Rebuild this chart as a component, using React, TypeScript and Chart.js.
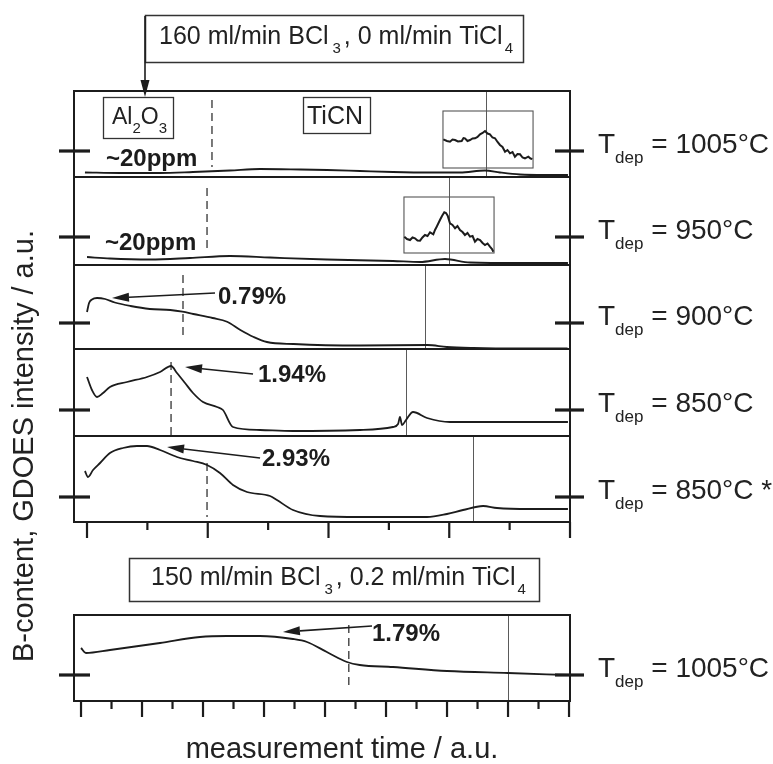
import React, { useEffect, useRef } from 'react';
import { Chart, registerables } from 'chart.js';

Chart.register(...registerables);

const W = 773;
const H = 764;
const FONT = '"Liberation Sans", Arial, Helvetica, sans-serif';
const INK = '#1c1c1c';

// ---------- data: upper group (x in a.u., y in a.u. relative to panel baseline mark) ----------
const p1X = [-0.17, 2.73, 6.05, 8.78, 11.84, 14.33, 17.64, 19.88, 22.61, 25.34, 28.41, 30.89, 32.96, 34.2, 35.86, 37.93, 39.83];
const p1Y = [-21.5, -22, -22, -21, -19.5, -18, -18.5, -19, -20, -21, -21.5, -21.5, -19.5, -21.5, -23.5, -24, -24];

const p2X = [0, 1.9, 5.22, 8.53, 11.84, 15.16, 19.88, 25.34, 27.58, 29.65, 31.72, 35.86, 39.83];
const p2Y = [-20, -21.5, -22.5, -21, -19, -20.5, -22.5, -24, -25, -22, -25.5, -26, -26];

const p3X = [0, 0.17, 0.41, 0.83, 1.5, 2.3, 3.6, 5.2, 6.9, 7.9, 8.8, 10.4, 11.6, 12.7, 13.8, 14.9, 17.1, 22.6, 28.2, 29.8, 32.0, 35.9, 39.8];
const p3Y = [11, 20, 23.5, 25, 24, 20.5, 17, 14, 13, 11.3, 9, 5, 1.3, -7, -14, -19, -21, -22.5, -22, -24, -25, -25.5, -25.5];

const p4X = [0, 0.41, 0.83, 1.33, 1.9, 3.31, 4.97, 6.05, 6.96, 7.45, 8.12, 8.78, 9.61, 10.77, 11.26, 12.09, 14.33, 17.06, 22.61, 25.34, 25.76, 25.92, 26.09, 26.42, 27.0, 28.16, 30.06, 39.83];
const p4Y = [33, 20, 13, 17, 23, 28, 33, 38, 44, 37, 27, 17, 8, 3, 0, -17, -20, -21, -20, -17, -14, -7, -15, -10, -2, -8, -12, -12];

const p5X = [-0.17, 0.08, 0.5, 1.08, 1.9, 2.98, 4.14, 4.97, 6.05, 7.45, 8.78, 9.94, 11.01, 12.09, 13.25, 15.16, 15.73, 17.06, 19.3, 22.61, 28.16, 29.81, 31.14, 32.8, 33.95, 36.69, 39.83];
const p5Y = [26, 20, 27, 34, 44, 49, 51, 51, 47, 40, 36, 32, 24, 12, 5, 1, -3, -13, -19, -20, -20, -17, -13, -9, -11, -12, -12];

// insets (zoomed views drawn inside panels 1 and 2)
const in1X = [29.51, 29.81, 30.06, 30.27, 30.48, 30.72, 31.03, 31.18, 31.3, 31.51, 31.72, 31.93, 32.14, 32.34, 32.55, 32.76, 32.96, 33.17, 33.37, 33.58, 33.79, 34.0, 34.2, 34.41, 34.62, 34.82, 35.03, 35.24, 35.44, 35.65, 35.86, 36.07, 36.27, 36.55, 36.73, 36.88];
const in1Y = [11.7, 10, 9.3, 11.5, 11, 9.5, 10, 13, 12.7, 10, 11, 12.5, 12.7, 14, 16.7, 18, 20, 17.5, 16.7, 13.5, 12.7, 9, 6, 4, -0.7, 1, -2.3, -1, -5.7, -3, -3.3, -6.5, -7.3, -5.7, -7.5, -8];

const in2X = [26.28, 26.5, 26.75, 26.96, 27.16, 27.37, 27.58, 27.78, 27.99, 28.2, 28.41, 28.68, 28.82, 28.96, 29.23, 29.4, 29.59, 29.73, 29.87, 30.06, 30.27, 30.48, 30.68, 30.89, 31.1, 31.3, 31.51, 31.72, 31.93, 32.13, 32.34, 32.55, 32.76, 32.96, 33.17, 33.37, 33.54, 33.65];
const in2Y = [0.3, -2, -3, -0.5, -1.3, -3.5, -3.7, -0.5, 2, 1, 4.7, 2.7, 7, 10.3, 17, 21, 24.7, 24, 21.3, 13.7, 12, 8.7, 11, 7, 5, 2, 4, 0.3, 1, -4.7, -2, -3, -6, -8, -6.5, -9.7, -12, -14.7];

// ---------- data: lower panel ----------
const p6X = [0, 0.8, 4.75, 12.95, 19.5, 23.9, 29.3, 34.75, 37.05, 40.3, 43.6, 45.7, 51.15, 60, 70, 79.8];
const p6Y = [27, 22, 25, 32, 38, 39, 39, 36, 33, 23, 13, 10, 8, 4, 2, 0];

// ---------- markers & labels ----------
const topTicks = [0, 5, 10, 15, 20, 25, 30, 35, 40];
const bottomTicks = [0, 5, 10, 15, 20, 25, 30, 35, 40, 45, 50, 55, 60, 65, 70, 75, 80];
const solidTop = [33.04, 29.98, 27.99, 26.42, 31.97];
const dashTop = [10.35, 9.94, 7.95, 6.96, 9.94];
const dashTopFrom = [51, 49, 48, 48, 34];
const dashTopTo = [-16, -16, -17, -25, -20];
const solidBottom = 70;
const dashBottom = 43.9;
const tdepLabels = ['1005°C', '950°C', '900°C', '850°C', '850°C *', '1005°C'];
const boronLabels = ['0.79%', '1.94%', '2.93%', '1.79%'];
const ppmLabel = '~20ppm';
const yTitle = 'B-content, GDOES intensity / a.u.';
const xTitle = 'measurement time / a.u.';

const PANEL_IDS = ['y1', 'y2', 'y3', 'y4', 'y5'];

function line(ctx: any, x1: number, y1: number, x2: number, y2: number) {
  ctx.beginPath();
  ctx.moveTo(x1, y1);
  ctx.lineTo(x2, y2);
  ctx.stroke();
}

function arrow(ctx: any, x1: number, y1: number, x2: number, y2: number) {
  const head = 17;
  const half = 4.5;
  const a = Math.atan2(y2 - y1, x2 - x1);
  const bx = x2 - head * Math.cos(a);
  const by = y2 - head * Math.sin(a);
  ctx.lineWidth = 1.6;
  line(ctx, x1, y1, bx, by);
  ctx.beginPath();
  ctx.moveTo(x2, y2);
  ctx.lineTo(bx + half * Math.sin(a), by - half * Math.cos(a));
  ctx.lineTo(bx - half * Math.sin(a), by + half * Math.cos(a));
  ctx.closePath();
  ctx.fill();
}

function rich(ctx: any, x: number, y: number, parts: any[], size: number, subSize: number, subDy: number) {
  let cx = x;
  for (const [t, sub, gap] of parts) {
    cx += gap || 0;
    ctx.font = `${sub ? subSize : size}px ${FONT}`;
    ctx.fillText(t, cx, sub ? y + subDy : y);
    cx += ctx.measureText(t).width;
  }
  return cx;
}

const decor = {
  id: 'decor',
  beforeDatasetsDraw(chart: any) {
    const ctx = chart.ctx;
    const xT = chart.scales.x2;
    const xB = chart.scales.x;
    const P = PANEL_IDS.map((id) => chart.scales[id]);
    const B = chart.scales.y6;
    ctx.save();
    ctx.strokeStyle = '#5a5a5a';
    ctx.lineWidth = 1;
    P.forEach((s: any, i: number) => {
      const x = Math.round(xT.getPixelForValue(solidTop[i])) + 0.5;
      line(ctx, x, s.top, x, s.bottom);
    });
    {
      const x = Math.round(xB.getPixelForValue(solidBottom)) + 0.5;
      line(ctx, x, B.top, x, B.bottom);
    }
    // dashed
    ctx.setLineDash([8, 5]);
    ctx.strokeStyle = '#333';
    ctx.lineWidth = 1.3;
    P.forEach((s: any, i: number) => {
      const x = xT.getPixelForValue(dashTop[i]);
      line(ctx, x, s.getPixelForValue(dashTopFrom[i]), x, s.getPixelForValue(dashTopTo[i]));
    });
    {
      const x = xB.getPixelForValue(dashBottom);
      line(ctx, x, B.getPixelForValue(50), x, B.getPixelForValue(-15));
    }
    ctx.setLineDash([]);
    // inset frames
    ctx.strokeStyle = '#555';
    ctx.lineWidth = 1.1;
    const insetRect = (s: any, x0: number, x1: number, yt: number, yb: number) => {
      const l = xT.getPixelForValue(x0);
      const r = xT.getPixelForValue(x1);
      const t = s.getPixelForValue(yt);
      const b = s.getPixelForValue(yb);
      ctx.strokeRect(l, t, r - l, b - t);
    };
    insetRect(P[0], 29.48, 36.94, 40, -17);
    insetRect(P[1], 26.25, 33.71, 40, -16);
    ctx.restore();
  },
  afterDraw(chart: any) {
    const ctx = chart.ctx;
    const xT = chart.scales.x2;
    const xB = chart.scales.x;
    const P = PANEL_IDS.map((id) => chart.scales[id]);
    const B = chart.scales.y6;
    const L = chart.chartArea.left;
    const R = chart.chartArea.right;
    ctx.save();
    ctx.strokeStyle = INK;
    ctx.fillStyle = INK;

    // frames
    ctx.lineWidth = 2;
    ctx.strokeRect(L, P[0].top, R - L, P[4].bottom - P[0].top);
    for (let i = 0; i < 4; i++) line(ctx, L, P[i].bottom, R, P[i].bottom);
    ctx.strokeRect(L, B.top, R - L, B.bottom - B.top);

    // x ticks
    ctx.lineWidth = 2.2;
    topTicks.forEach((v) => {
      const x = xT.getPixelForValue(v);
      const len = v % 10 === 0 ? 16 : 8;
      line(ctx, x, P[4].bottom, x, P[4].bottom + len);
    });
    bottomTicks.forEach((v) => {
      const x = xB.getPixelForValue(v);
      const len = v % 10 === 0 ? 16 : 8;
      line(ctx, x, B.bottom, x, B.bottom + len);
    });

    // baseline marks + T labels
    const all = [...P, B];
    all.forEach((s: any, i: number) => {
      const y0 = s.getPixelForValue(0);
      ctx.lineWidth = 3.2;
      line(ctx, L - 15, y0, L + 16, y0);
      line(ctx, R - 15, y0, R + 14, y0);
      ctx.fillStyle = '#222';
      ctx.textBaseline = 'alphabetic';
      ctx.textAlign = 'left';
      rich(ctx, 598, y0 + 2, [['T', false], ['dep', true], [' = ' + tdepLabels[i], false]], 28, 17, 10);
    });

    // ~20ppm
    ctx.fillStyle = INK;
    ctx.font = `bold 24px ${FONT}`;
    ctx.fillText(ppmLabel, xT.getPixelForValue(1.57), P[0].getPixelForValue(-15));
    ctx.fillText(ppmLabel, xT.getPixelForValue(1.49), P[1].getPixelForValue(-13));

    // arrows and percentages
    const arrowsTop = [
      { s: P[2], from: [10.6, 30], to: [2.07, 25], at: [10.85, 19] },
      { s: P[3], from: [13.75, 36], to: [8.12, 43], at: [14.16, 28] },
      { s: P[4], from: [14.33, 39], to: [6.63, 50], at: [14.49, 31] },
    ];
    arrowsTop.forEach((a, i) => {
      arrow(ctx, xT.getPixelForValue(a.from[0]), a.s.getPixelForValue(a.from[1]), xT.getPixelForValue(a.to[0]), a.s.getPixelForValue(a.to[1]));
      ctx.font = `bold 24px ${FONT}`;
      ctx.fillText(boronLabels[i], xT.getPixelForValue(a.at[0]), a.s.getPixelForValue(a.at[1]));
    });
    arrow(ctx, xB.getPixelForValue(47.7), B.getPixelForValue(49), xB.getPixelForValue(33.1), B.getPixelForValue(43));
    ctx.font = `bold 24px ${FONT}`;
    ctx.fillText(boronLabels[3], xB.getPixelForValue(47.7), B.getPixelForValue(34));

    // layer boxes (Al2O3, TiCN)
    ctx.lineWidth = 1.3;
    ctx.strokeStyle = '#333';
    ctx.fillStyle = '#222';
    ctx.strokeRect(103.5, 97.5, 70, 41);
    rich(ctx, 112, 124, [['Al', false], ['2', true], ['O', false], ['3', true]], 23, 15, 9);
    ctx.strokeRect(303.5, 97.5, 67, 36);
    ctx.font = `25px ${FONT}`;
    ctx.fillText('TiCN', 307, 124);

    // top process box + arrow
    ctx.lineWidth = 1.5;
    ctx.strokeRect(145.5, 15.5, 378, 47);
    rich(ctx, 159, 44, [['160 ml/min BCl', false], ['3', true, 4], [', 0 ml/min TiCl', false, 3], ['4', true, 2]], 25, 15, 9);
    ctx.lineWidth = 2;
    ctx.strokeStyle = INK;
    ctx.fillStyle = INK;
    arrow(ctx, 145, 16, 145, 97);

    // bottom process box
    ctx.lineWidth = 1.5;
    ctx.strokeStyle = '#333';
    ctx.fillStyle = '#222';
    ctx.strokeRect(129.5, 558.5, 410, 43);
    rich(ctx, 151, 585, [['150 ml/min BCl', false], ['3', true, 4], [', 0.2 ml/min TiCl', false, 3], ['4', true, 2]], 25, 15, 9);

    // axis titles
    ctx.font = `29px ${FONT}`;
    ctx.textAlign = 'center';
    ctx.fillText(xTitle, 342, 758);
    ctx.save();
    ctx.translate(33, 446);
    ctx.rotate(-Math.PI / 2);
    ctx.fillText(yTitle, 0, 0);
    ctx.restore();

    ctx.restore();
  },
};

export default function App() {
  const ref = useRef<HTMLCanvasElement>(null);
  useEffect(() => {
    const canvas = ref.current;
    if (!canvas) return;
    const ds = (xs: number[], ys: number[], xAxisID: string, yAxisID: string, extra: any = {}) => ({
      data: xs.map((x, i) => ({ x, y: ys[i] })),
      xAxisID,
      yAxisID,
      borderColor: INK,
      borderWidth: 1.8,
      pointRadius: 0,
      fill: false,
      cubicInterpolationMode: 'monotone',
      ...extra,
    });
    const yPanel = (min: number, max: number, weight: number, order: number) => ({
      type: 'linear',
      display: false,
      position: 'left',
      stack: 'panels',
      stackWeight: weight,
      weight: order,
      min,
      max,
    });
    const chart = new Chart(canvas, {
      type: 'line',
      data: {
        datasets: [
          ds(p1X, p1Y, 'x2', 'y1'),
          ds(p2X, p2Y, 'x2', 'y2'),
          ds(p3X, p3Y, 'x2', 'y3'),
          ds(p4X, p4Y, 'x2', 'y4'),
          ds(p5X, p5Y, 'x2', 'y5'),
          ds(in1X, in1Y, 'x2', 'y1', { cubicInterpolationMode: 'default', tension: 0, borderWidth: 2 }),
          ds(in2X, in2Y, 'x2', 'y2', { cubicInterpolationMode: 'default', tension: 0, borderWidth: 2 }),
          ds(p6X, p6Y, 'x', 'y6'),
        ] as any,
      },
      options: {
        animation: false,
        responsive: false,
        maintainAspectRatio: false,
        events: [],
        layout: { autoPadding: false, padding: { left: 74, right: 203, top: 91, bottom: 63 } },
        plugins: { legend: { display: false }, tooltip: { enabled: false } },
        scales: {
          x: { type: 'linear', display: false, position: 'bottom', min: -1.15, max: 80.16 },
          x2: { type: 'linear', display: false, position: 'bottom', min: -1.077, max: 40 },
          y1: yPanel(-26, 60, 86, 7),
          y2: yPanel(-28, 60, 88, 6),
          y3: yPanel(-26, 58, 84, 5),
          y4: yPanel(-26, 61, 87, 4),
          y5: yPanel(-25, 61, 86, 3),
          ygap: yPanel(0, 1, 93, 2),
          y6: yPanel(-26, 60, 86, 1),
        } as any,
      },
      plugins: [decor],
    } as any);
    return () => chart.destroy();
  }, []);
  return (
    <div style={{ position: 'absolute', left: 0, top: 0, width: W, height: H, background: '#fff' }}>
      <canvas ref={ref} width={W} height={H} style={{ display: 'block', width: W, height: H }} />
    </div>
  );
}
